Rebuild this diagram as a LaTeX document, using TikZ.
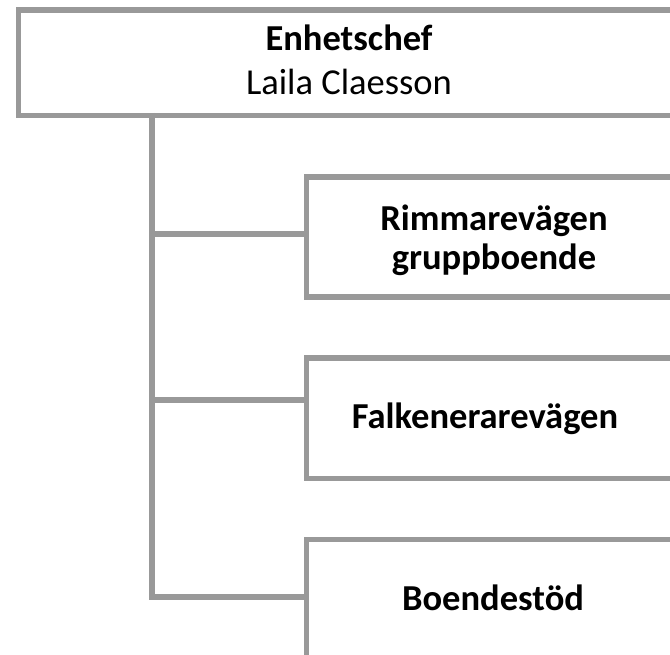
\documentclass[tikz,border=0pt]{standalone}
\usepackage{fontspec}
\setmainfont{Carlito}
\definecolor{linegray}{RGB}{153,153,153}
\begin{document}
\begin{tikzpicture}[x=0.75pt,y=-0.75pt,
  box/.style={draw=linegray,line width=4.1pt,fill=white,rectangle,inner sep=0pt,anchor=north west},
  conn/.style={draw=linegray,line width=4.1pt},
  lbl/.style={align=center,inner sep=0pt,font=\fontsize{27.4}{32}\selectfont\bfseries}]
\useasboundingbox (0,0) rectangle (670,655);
\clip (0,0) rectangle (670,655);
% top box
\node[box,minimum width=666*0.75pt,minimum height=105.5*0.75pt] (top) at (16,7.5) {};
\node[align=center,inner sep=0pt,font=\fontsize{27.4}{33}\selectfont] (toptxt) at (349,60)
  {\textbf{Enhetschef}\\Laila Claesson};
% boxes
\node[box,minimum width=380*0.75pt,minimum height=120*0.75pt] (b1) at (304,174.5) {};
\node[box,minimum width=380*0.75pt,minimum height=120*0.75pt] (b2) at (304,355.5) {};
\node[box,minimum width=380*0.75pt,minimum height=120*0.75pt] (b3) at (304,536.5) {};
\node[lbl,font=\fontsize{27.4}{29}\selectfont\bfseries] (t1) at (494,240) {Rimmarevägen\\gruppboende};
\node[lbl] (t2) at (485,419) {Falkenerarevägen};
\node[lbl] (t3) at (493,598) {Boendestöd};
% connectors
\coordinate (j0) at (152,113);
\coordinate (j1) at (152,234);
\coordinate (j2) at (152,400);
\coordinate (j3) at (152,597);
\draw[conn] (j0) -- (j3) -- (j3 -| b3.west);
\draw[conn] (j1) -- (j1 -| b1.west);
\draw[conn] (j2) -- (j2 -| b2.west);
\end{tikzpicture}
\end{document}
